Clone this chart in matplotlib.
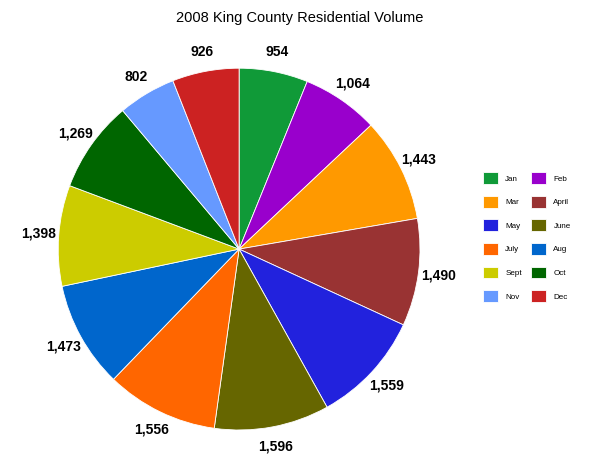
import matplotlib
matplotlib.use("Agg")
import matplotlib.pyplot as plt

# 2008 King County residential sales volume by month
months = ["Jan", "Feb", "Mar", "April", "May", "June",
          "July", "Aug", "Sept", "Oct", "Nov", "Dec"]
volume = [954, 1064, 1443, 1490, 1559, 1596,
          1556, 1473, 1398, 1269, 802, 926]
colors = ["#109a38", "#9900cc", "#ff9900", "#993333", "#2222dd", "#666600",
          "#ff6600", "#0066cc", "#cccc00", "#006600", "#6699ff", "#cc2222"]

plt.rcParams["font.family"] = ["Liberation Sans", "DejaVu Sans"]

fig = plt.figure(figsize=(6.0, 4.63), dpi=100)
ax = fig.add_axes([0.097, 0.071, 0.603, 0.782])

wedges, texts = ax.pie(
    volume,
    labels=[f"{v:,}" for v in volume],
    colors=colors,
    startangle=90,
    counterclock=False,
    labeldistance=1.11,
    wedgeprops=dict(edgecolor="white", linewidth=0.6),
    textprops=dict(fontsize=10, fontweight="bold", color="black"),
)
for t in texts:
    t.set_ha("center")
    t.set_va("center")
ax.set_xlim(-1, 1)
ax.set_ylim(-1, 1)
ax.set_aspect("equal")

fig.text(0.5, 0.962, "2008 King County Residential Volume",
         ha="center", va="center", fontsize=10.5)

# legend reads row by row: Jan Feb / Mar April / ...
order = list(range(0, 12, 2)) + list(range(1, 12, 2))
fig.legend([wedges[i] for i in order], [months[i] for i in order],
           ncol=2, loc="upper left", bbox_to_anchor=(0.798, 0.637),
           frameon=False, fontsize=5.8, handlelength=1.9, handleheight=1.9,
           handletextpad=0.9, labelspacing=1.45, columnspacing=1.1,
           borderpad=0)

fig.savefig("out.png", dpi=100)
